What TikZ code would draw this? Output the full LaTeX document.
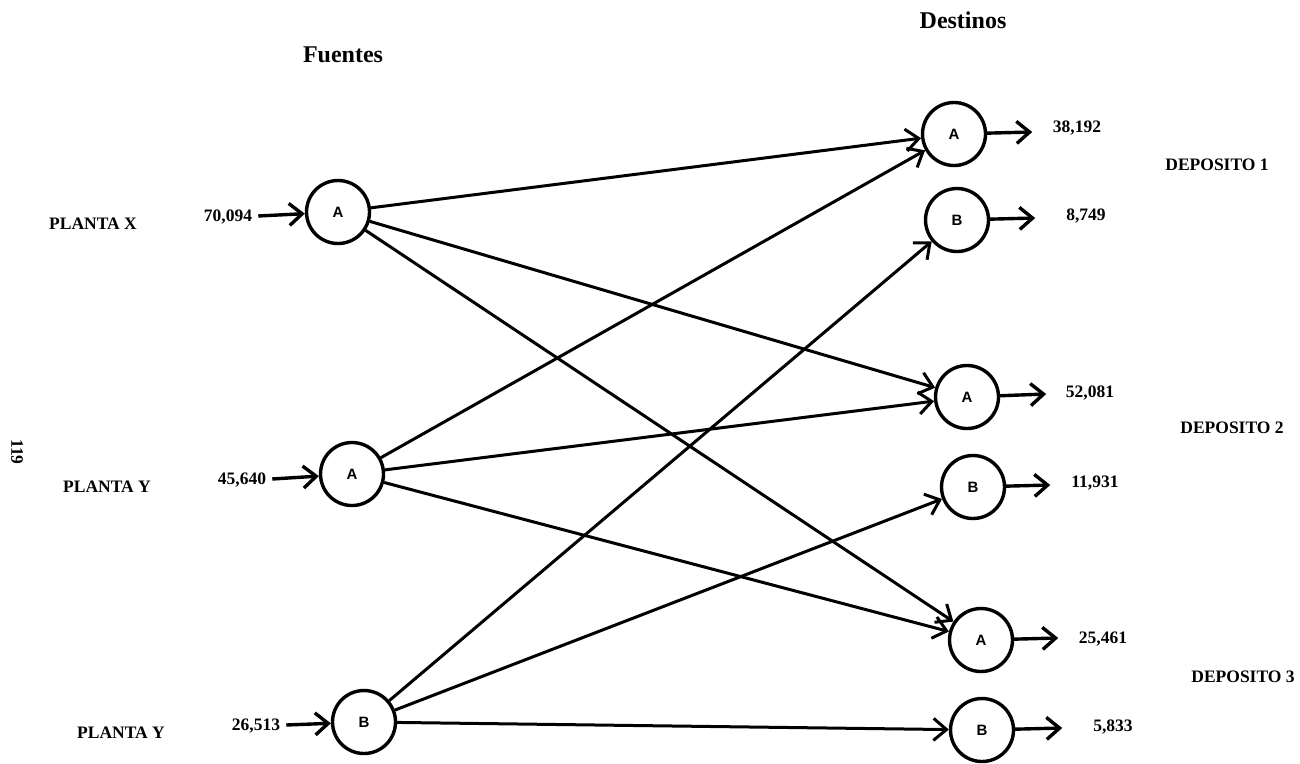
\documentclass[tikz,border=0pt]{standalone}
\usepackage{fontspec}
\setmainfont{Liberation Serif}
\setsansfont{Liberation Sans}
\usetikzlibrary{arrows.meta}
\begin{document}
\begin{tikzpicture}[x=1pt,y=-1pt,
  nd/.style={circle,draw,line width=3.4pt,minimum size=63pt,inner sep=0pt,font=\sffamily\bfseries\fontsize{15}{17}\selectfont},
  lbl/.style={font=\bfseries\fontsize{17.5}{20}\selectfont,inner sep=2pt},
  hdr/.style={font=\bfseries\fontsize{24}{28}\selectfont},
  arr/.style={line width=3.4pt,-{Straight Barb[length=13pt,width=22pt]}},
  edge/.style={line width=3pt,-{Straight Barb[length=13pt,width=22pt]}}]
\useasboundingbox[fill=white] (0,0) rectangle (1300,763);
% headers
\node[hdr] (fu) at (343,55) {Fuentes};
\node[hdr] (de) at (963,20) {Destinos};
\node[lbl,rotate=-90] (pg) at (17,452) {119};
% sources
\node[nd] (xa) at (338,212) {A};
\node[nd] (ya) at (352,474) {A};
\node[nd] (yb) at (364,722) {B};
\node[lbl] (px) at (93,224) {PLANTA X};
\node[lbl] (py1) at (107,487) {PLANTA Y};
\node[lbl] (py2) at (121,733) {PLANTA Y};
\node[lbl] (s1) at (228,217) {70,094};
\node[lbl] (s2) at (242,480) {45,640};
\node[lbl] (s3) at (256,726) {26,513};
\draw[arr] (s1.east) ++(4,-1) coordinate (s1a) -- (xa);
\draw[arr] (s2.east) ++(4,-1) coordinate (s2a) -- (ya);
\draw[arr] (s3.east) ++(4,-1) coordinate (s3a) -- (yb);
% destinations
\node[nd] (d1a) at (954,134) {A};
\node[nd] (d1b) at (957,220) {B};
\node[nd] (d2a) at (967,397) {A};
\node[nd] (d2b) at (973,487) {B};
\node[nd] (d3a) at (981,640) {A};
\node[nd] (d3b) at (982,730) {B};
% outputs
\path (d1a.east) ++(45,-2) coordinate (o1);
\path (d1b.east) ++(45,-2) coordinate (o2);
\path (d2a.east) ++(46,-3) coordinate (o3);
\path (d2b.east) ++(44,-2) coordinate (o4);
\path (d3a.east) ++(44,-2) coordinate (o5);
\path (d3b.east) ++(47,-2) coordinate (o6);
\draw[arr] (d1a) -- (o1);
\draw[arr] (d1b) -- (o2);
\draw[arr] (d2a) -- (o3);
\draw[arr] (d2b) -- (o4);
\draw[arr] (d3a) -- (o5);
\draw[arr] (d3b) -- (o6);
\node[lbl] (v1) at (1077,128) {38,192};
\node[lbl] (v2) at (1086,216) {8,749};
\node[lbl] (v3) at (1090,393) {52,081};
\node[lbl] (v4) at (1095,483) {11,931};
\node[lbl] (v5) at (1103,639) {25,461};
\node[lbl] (v6) at (1113,727) {5,833};
\node[lbl] (dp1) at (1217,165) {DEPOSITO 1};
\node[lbl] (dp2) at (1232,428) {DEPOSITO 2};
\node[lbl] (dp3) at (1243,677) {DEPOSITO 3};
% flows
\draw[edge] (xa) -- (d1a);
\draw[edge] (xa) -- (d2a);
\draw[edge] (xa) -- (d3a);
\draw[edge] (ya) -- (d1a);
\draw[edge] (ya) -- (d2a);
\draw[edge] (ya) -- (d3a);
\draw[edge] (yb) -- (d1b);
\draw[edge] (yb) -- (d2b);
\draw[edge] (yb) -- (d3b);
\end{tikzpicture}
\end{document}
